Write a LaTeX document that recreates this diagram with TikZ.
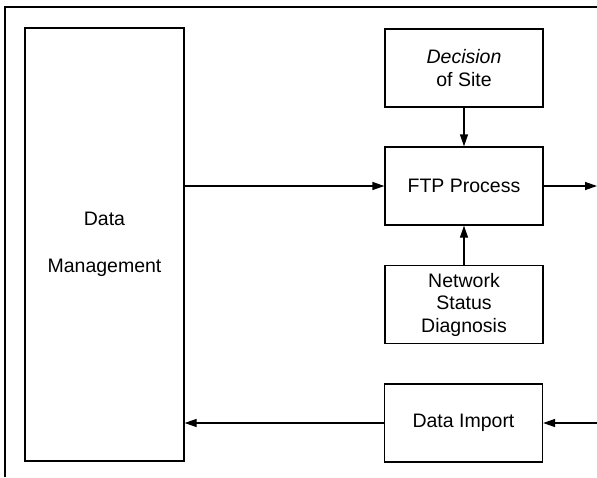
\documentclass[tikz,border=0pt]{standalone}
\usepackage{fontspec}
\setmainfont{Liberation Sans}
\usetikzlibrary{arrows.meta}
\begin{document}
\begin{tikzpicture}[x=1pt,y=-1pt,
  line width=1.3pt,
  every node/.style={font=\fontsize{19.5}{22.5}\selectfont},
  blockbox/.style={draw,rectangle,inner sep=0pt,align=center,
    minimum width=158pt,minimum height=78pt},
  flow/.style={-{Triangle[length=12pt,width=8pt]}}]
\useasboundingbox (0,0) rectangle (597,477);
% outer frame (left and top edges)
\draw (5,477) -- (5,7) -- (597,7);
% data management block
\node[draw,rectangle,inner sep=0pt,align=center,
  minimum width=159pt,minimum height=433pt] (dm) at (104.5,244.5)
  {Data\\[24pt]Management};
% right column
\node[blockbox] (site) at (464,68) {\textit{Decision}\\of Site};
\node[blockbox] (ftp) at (464,186) {FTP Process};
\node[blockbox] (nsd) at (464,304.5) {Network\\Status\\Diagnosis};
\node[blockbox] (imp) at (463.5,423) {Data Import};
% external ends
\coordinate (outR) at (597,186);
\coordinate (inR) at (597,423);
% connectors
\draw[flow] (site) -- (ftp);
\draw[flow] (nsd) -- (ftp);
\draw[flow] (dm.east |- ftp) -- (ftp);
\draw[flow] (ftp) -- (outR);
\draw[flow] (inR) -- (imp);
\draw[flow] (imp) -- (dm.east |- imp);
\end{tikzpicture}
\end{document}
